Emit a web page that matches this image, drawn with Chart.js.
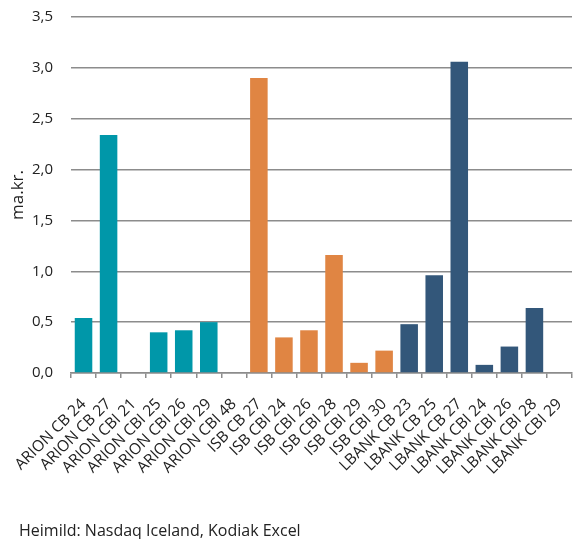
<!DOCTYPE html>
<html>
<head>
<meta charset="utf-8">
<script src="https://cdn.jsdelivr.net/npm/chart.js@4/dist/chart.umd.min.js"></script>
<style>
  html, body { margin: 0; padding: 0; background: #fff; }
  #wrap { width: 575px; height: 539px; }
</style>
</head>
<body>
<div id="wrap"><canvas id="bondChart"></canvas></div>
<script>
const labels = [
    'ARION CB 24', 'ARION CB 27', 'ARION CBI 21', 'ARION CBI 25', 'ARION CBI 26', 'ARION CBI 29', 'ARION CBI 48',
    'ISB CB 27', 'ISB CBI 24', 'ISB CBI 26', 'ISB CBI 28', 'ISB CBI 29', 'ISB CBI 30',
    'LBANK CB 23', 'LBANK CB 25', 'LBANK CB 27', 'LBANK CBI 24', 'LBANK CBI 26', 'LBANK CBI 28', 'LBANK CBI 29'
];
const values = [
    0.54, 2.34, 0, 0.40, 0.42, 0.50, 0,
    2.90, 0.35, 0.42, 1.16, 0.10, 0.22,
    0.48, 0.96, 3.06, 0.08, 0.26, 0.64, 0
];
const yTicks = [0, 0.5, 1, 1.5, 2, 2.5, 3, 3.5];
const source = 'Heimild: Nasdaq Iceland, Kodiak Excel';
const bankColors = { ARION: '#0097a9', ISB: '#e08543', LBANK: '#33577a' };

const barColors = labels.map(l => bankColors[l.split(' ')[0]]);
const font = 'Open Sans';

// source line under the chart
const sourceNote = {
    id: 'sourceNote',
    afterDraw(chart) {
        const c = chart.ctx;
        c.save();
        c.font = '16px "Open Sans"';
        c.fillStyle = '#222';
        c.textBaseline = 'alphabetic';
        c.fillText(source, 19, 536);
        c.restore();
    }
};

const ctx = document.getElementById('bondChart').getContext('2d');
new Chart(ctx, {
    type: 'bar',
    data: {
        labels: labels,
        datasets: [{
            data: values,
            backgroundColor: barColors,
            barPercentage: 0.7,
            categoryPercentage: 1.0
        }]
    },
    options: {
        responsive: true,
        maintainAspectRatio: false,
        animation: false,
        layout: { padding: { top: 17, right: 3, left: 0, bottom: 0 } },
        plugins: {
            legend: { display: false },
            tooltip: { enabled: false }
        },
        scales: {
            x: {
                grid: {
                    display: true,
                    drawOnChartArea: false,
                    drawTicks: true,
                    tickLength: 5,
                    color: '#8c8c8c',
                    lineWidth: 1.5
                },
                border: { display: true, color: '#8c8c8c', width: 1.5 },
                ticks: {
                    maxRotation: 45,
                    minRotation: 45,
                    autoSkip: false,
                    padding: 17,
                    color: '#222',
                    font: { family: font, size: 15.5 }
                },
                afterFit: s => {
                    s.height = 166;
                    s.paddingLeft = 0;
                    s.paddingRight = 0;
                }
            },
            y: {
                min: 0,
                max: 3.5,
                afterBuildTicks: s => { s.ticks = yTicks.map(v => ({ value: v })); },
                grid: { color: '#8c8c8c', lineWidth: 1.5, drawTicks: false },
                border: { display: false },
                ticks: {
                    padding: 18,
                    color: '#222',
                    font: { family: font, size: 15 },
                    callback: v => v.toFixed(1).replace('.', ',')
                },
                title: {
                    display: true,
                    text: 'ma.kr.',
                    color: '#222',
                    font: { family: font, size: 17 },
                    padding: { top: 8, bottom: 0 }
                },
                afterFit: s => {
                    s.width = 71;
                    s.paddingTop = 0;
                    s.paddingBottom = 0;
                }
            }
        }
    },
    plugins: [sourceNote]
});
</script>
</body>
</html>
